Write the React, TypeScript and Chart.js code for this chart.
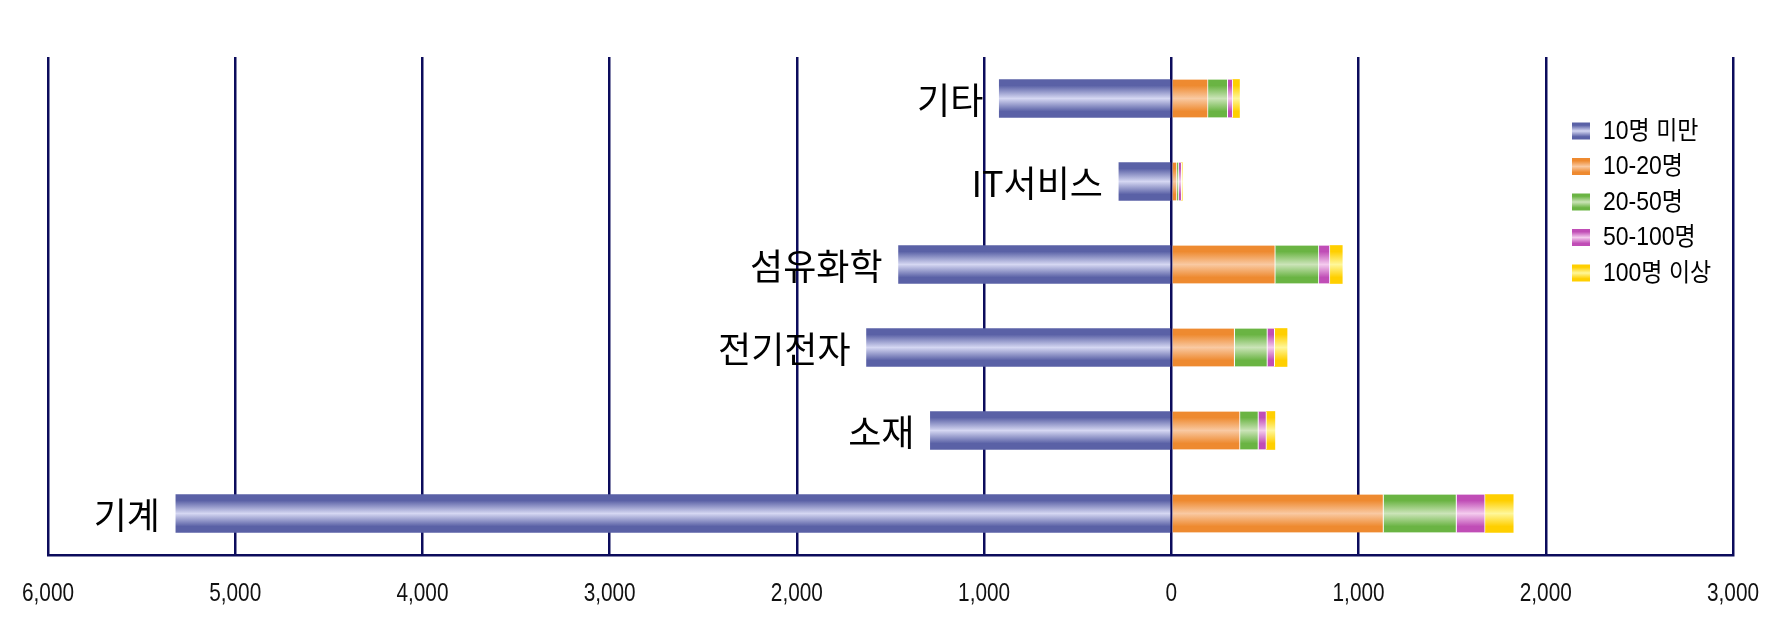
import React, { useEffect, useRef } from 'react';
import { Chart, registerables } from 'chart.js';

Chart.register(...registerables);

const categories = ['기타', 'IT서비스', '섬유화학', '전기전자', '소재', '기계'];
const seriesLabels = ['10명 미만', '10-20명', '20-50명', '50-100명', '100명 이상'];
const under10 = [919, 280, 1457, 1628, 1287, 5317];
const s10to20 = [196, 30, 555, 338, 367, 1133];
const s20to50 = [105, 10, 233, 175, 98, 390];
const s50to100 = [27, 15, 59, 39, 43, 153];
const over100 = [36, 3, 66, 66, 45, 150];
const tickValues = [-6000, -5000, -4000, -3000, -2000, -1000, 0, 1000, 2000, 3000];

const palette = [
  { edge: '#5a61a6', mid: '#d5d7f2' },
  { edge: '#ee8a30', mid: '#f9c9a2' },
  { edge: '#6ab443', mid: '#cbe4b8' },
  { edge: '#c04db6', mid: '#f4cbee' },
  { edge: '#ffcf00', mid: '#fff79a' },
];

const BAR_H = 38;
const NAVY = '#0c0c5c';
const SANS = '"Liberation Sans", "Noto Sans CJK KR", sans-serif';

function grad(ctx: CanvasRenderingContext2D, top: number, bottom: number, c: { edge: string; mid: string }) {
  const g = ctx.createLinearGradient(0, top, 0, bottom);
  g.addColorStop(0, c.edge);
  g.addColorStop(0.16, c.edge);
  g.addColorStop(0.5, c.mid);
  g.addColorStop(0.84, c.edge);
  g.addColorStop(1, c.edge);
  return g;
}

function barColor(idx: number) {
  const c = palette[idx];
  return (context: any) => {
    const chart = context.chart;
    const y = chart.scales && chart.scales.y;
    if (!y || context.type !== 'data' || context.dataIndex === undefined) return c.edge;
    const yc = y.getPixelForValue(context.dataIndex);
    if (!Number.isFinite(yc)) return c.edge;
    return grad(chart.ctx, yc - BAR_H / 2, yc + BAR_H / 2, c);
  };
}

function condensedText(ctx: CanvasRenderingContext2D, text: string, x: number, y: number, sx: number) {
  ctx.save();
  ctx.translate(x, y);
  ctx.scale(sx, 1);
  ctx.fillText(text, 0, 0);
  ctx.restore();
}

const labelPlugin = {
  id: 'catLabels',
  afterDraw(chart: any) {
    const { ctx, scales, chartArea } = chart;
    const x = scales.x;
    const y = scales.y;
    ctx.save();
    ctx.font = '36px "Noto Sans CJK KR", sans-serif';
    ctx.fillStyle = '#000';
    ctx.textAlign = 'right';
    ctx.textBaseline = 'middle';
    categories.forEach((c, i) => {
      const px = x.getPixelForValue(-under10[i]) - 16;
      const py = y.getPixelForValue(i);
      ctx.fillText(c, px, py + 2);
    });
    // x tick labels, condensed
    ctx.font = '26px ' + SANS;
    ctx.fillStyle = '#111';
    ctx.textAlign = 'center';
    ctx.textBaseline = 'middle';
    tickValues.forEach((v) => {
      const px = x.getPixelForValue(v);
      condensedText(ctx, Math.abs(v).toLocaleString('en-US'), px, chartArea.bottom + 39, 0.8);
    });
    ctx.restore();
  },
};

const legendPlugin = {
  id: 'customLegend',
  afterDraw(chart: any) {
    const { ctx, chartArea } = chart;
    const x0 = chartArea.right - 161;
    const y0 = chartArea.top + 74;
    ctx.save();
    ctx.font = '25px ' + SANS;
    ctx.textAlign = 'left';
    ctx.textBaseline = 'middle';
    seriesLabels.forEach((lab, i) => {
      const yc = y0 + i * 35.5;
      ctx.fillStyle = grad(ctx, yc - 8.5, yc + 8.5, palette[i]);
      ctx.fillRect(x0, yc - 8.5, 18, 17);
      ctx.fillStyle = '#000';
      condensedText(ctx, lab, x0 + 31, yc + 1, 0.92);
    });
    ctx.restore();
  },
};

export default function App() {
  const ref = useRef<HTMLCanvasElement | null>(null);
  useEffect(() => {
    if (!ref.current) return;
    const sep = { top: 0, bottom: 0, left: 0, right: 1 };
    const datasets = [
      { label: seriesLabels[0], data: under10.map((v) => -v), backgroundColor: barColor(0), borderWidth: 0 },
      { label: seriesLabels[1], data: s10to20, backgroundColor: barColor(1), borderColor: '#ffffff', borderWidth: sep },
      { label: seriesLabels[2], data: s20to50, backgroundColor: barColor(2), borderColor: '#ffffff', borderWidth: sep },
      { label: seriesLabels[3], data: s50to100, backgroundColor: barColor(3), borderColor: '#ffffff', borderWidth: sep },
      { label: seriesLabels[4], data: over100, backgroundColor: barColor(4), borderWidth: 0 },
    ];
    const chart = new Chart(ref.current, {
      type: 'bar',
      data: { labels: categories, datasets: datasets as any },
      options: {
        indexAxis: 'y',
        animation: false,
        responsive: true,
        maintainAspectRatio: false,
        layout: { padding: { left: 48, right: 56, top: 57, bottom: 84 } },
        datasets: { bar: { barThickness: BAR_H, borderSkipped: false } },
        plugins: { legend: { display: false }, tooltip: { enabled: false } },
        scales: {
          x: {
            stacked: true,
            min: -6000,
            max: 3000,
            z: 1,
            grid: { color: NAVY, lineWidth: 2.5, drawTicks: false },
            border: { display: true, color: NAVY, width: 2.5 },
            ticks: { stepSize: 1000, display: false },
          },
          y: {
            stacked: true,
            display: false,
          },
        },
      } as any,
      plugins: [labelPlugin, legendPlugin],
    });
    return () => chart.destroy();
  }, []);
  return (
    <div style={{ position: 'fixed', left: 0, top: 0, width: 1789, height: 639, background: '#fff' }}>
      <canvas ref={ref} />
    </div>
  );
}
